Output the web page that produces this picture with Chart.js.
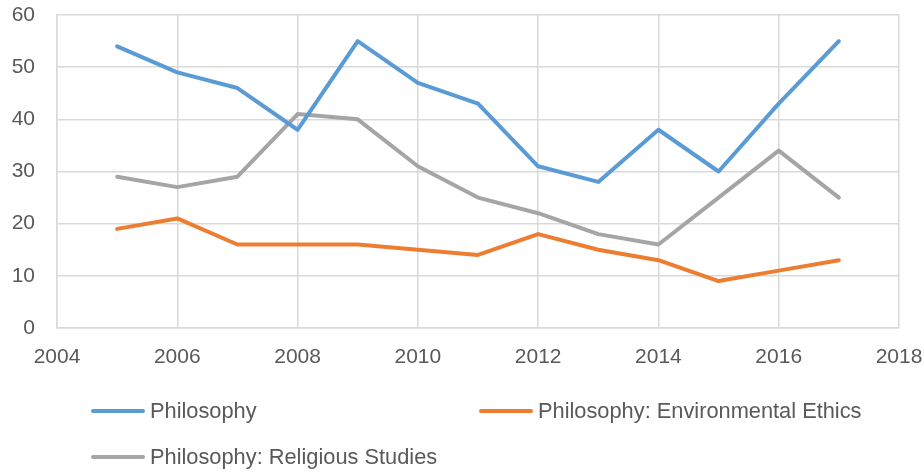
<!DOCTYPE html>
<html>
<head>
<meta charset="utf-8">
<script src="https://cdn.jsdelivr.net/npm/chart.js@4"></script>
<style>
  html, body { margin: 0; padding: 0; background: #fff; }
  #wrap { position: relative; width: 924px; height: 472px; }
  #legend {
    position: absolute; left: 91px; top: 395px;
    display: grid; grid-template-columns: 388px auto; grid-auto-rows: 46px;
    font-family: "Liberation Sans", Arial, sans-serif; font-size: 21.8px; color: #595959;
  }
  .item { display: flex; align-items: center; height: 32px; }
  .swatch { width: 54px; height: 4px; margin-right: 5px; border-radius: 2px; }
</style>
</head>
<body>
<div id="wrap">
  <canvas id="myChart" width="924" height="472"></canvas>
  <div id="legend"></div>
</div>
<script>
var years = [2005, 2006, 2007, 2008, 2009, 2010, 2011, 2012, 2013, 2014, 2015, 2016, 2017];
var philosophy = [54, 49, 46, 38, 55, 47, 43, 31, 28, 38, 30, 43, 55];
var envEthics = [19, 21, 16, 16, 16, 15, 14, 18, 15, 13, 9, 11, 13];
var religious = [29, 27, 29, 41, 40, 31, 25, 22, 18, 16, 25, 34, 25];
var seriesNames = ["Philosophy", "Philosophy: Environmental Ethics", "Philosophy: Religious Studies"];
var colors = ["#5B9BD5", "#ED7D31", "#A5A5A5"];

function toPoints(vals) {
  return years.map((y, i) => ({ x: y, y: vals[i] }));
}

var font = { family: "'Liberation Sans', Arial, sans-serif", size: 21 };
var ctx = document.getElementById("myChart").getContext("2d");
var myChart = new Chart(ctx, {
  type: "line",
  data: {
    datasets: [philosophy, envEthics, religious].map((vals, i) => ({
      label: seriesNames[i],
      data: toPoints(vals),
      borderColor: colors[i],
      backgroundColor: colors[i],
      borderWidth: 4,
      pointRadius: 0,
      tension: 0,
      borderJoinStyle: "round",
      borderCapStyle: "round",
    })),
  },
  options: {
    responsive: false,
    animation: false,
    layout: { padding: { left: 0, right: 25, top: 15, bottom: 0 } },
    plugins: { legend: { display: false }, tooltip: { enabled: false } },
    scales: {
      x: {
        type: "linear",
        min: 2004,
        max: 2018,
        ticks: { stepSize: 2, font: font, color: "#595959", padding: 17, maxRotation: 0,
          callback: (v) => String(v) },
        grid: { color: "#D9D9D9", lineWidth: 1.5, drawTicks: false },
        border: { color: "#D9D9D9", width: 1.5 },
        afterFit: (s) => { s.height = 144; s.paddingLeft = 0; s.paddingRight = 0; },
      },
      y: {
        min: 0,
        max: 60,
        ticks: { stepSize: 10, font: font, color: "#595959", padding: 22 },
        grid: { color: "#D9D9D9", lineWidth: 1.5, drawTicks: false },
        border: { color: "#D9D9D9", width: 1.5 },
        afterFit: (s) => { s.width = 57; s.paddingTop = 0; s.paddingBottom = 0; },
      },
    },
  },
});

// legend built as html below the canvas, two columns like the original
var legend = document.getElementById("legend");
myChart.data.datasets.forEach((ds) => {
  var item = document.createElement("div");
  item.className = "item";
  item.innerHTML = '<span class="swatch" style="background:' + ds.borderColor + '"></span><span>' + ds.label + "</span>";
  legend.appendChild(item);
});
</script>
</body>
</html>
